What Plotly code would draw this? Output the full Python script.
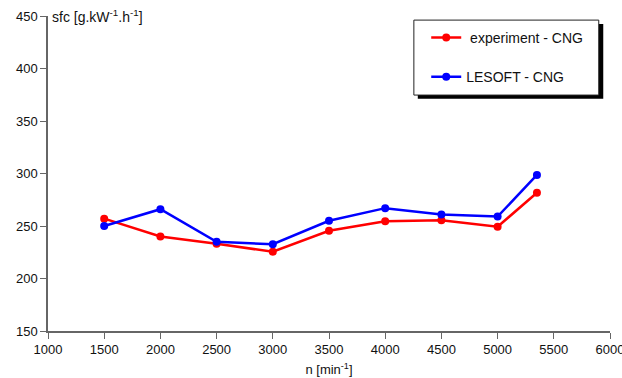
import plotly.graph_objects as go

rpm = [1500, 2000, 2500, 3000, 3500, 4000, 4500, 5000, 5350]
sfc_experiment = [257, 240, 233, 225.5, 245.5, 254.5, 255.4, 249.3, 281.7]
sfc_lesoft = [250, 266, 235, 232.6, 255, 267, 261, 259, 298.6]

x_ticks = [1000, 1500, 2000, 2500, 3000, 3500, 4000, 4500, 5000, 5500, 6000]
y_ticks = [150, 200, 250, 300, 350, 400, 450]

FONT = "Liberation Sans, Arial, sans-serif"

fig = go.Figure()
fig.add_trace(go.Scatter(
    x=rpm, y=sfc_experiment, mode="lines+markers", name=" experiment - CNG",
    line=dict(color="#FF0000", width=2.5), marker=dict(color="#FF0000", size=8),
    legendgroup="a"))
fig.add_trace(go.Scatter(
    x=rpm, y=sfc_lesoft, mode="lines+markers", name="LESOFT - CNG",
    line=dict(color="#0000FF", width=2.5), marker=dict(color="#0000FF", size=8),
    legendgroup="b"))

axis_common = dict(
    showline=True, linecolor="#666666", linewidth=1.5,
    ticks="outside", ticklen=6, tickcolor="#666666", tickwidth=1,
    showgrid=False, zeroline=False, ticklabeloverflow="allow", automargin=False,
    tickfont=dict(family=FONT, size=13, color="#111111"),
)

fig.update_layout(
    width=622, height=378,
    margin=dict(l=48, r=12, t=16, b=47),
    paper_bgcolor="white", plot_bgcolor="white",
    font=dict(family=FONT, size=13, color="#111111"),
    xaxis=dict(range=[1000, 6000], tickvals=x_ticks, **axis_common,
               title=dict(text="n [min<sup>-1</sup>]", font=dict(family=FONT, size=13), standoff=9)),
    yaxis=dict(range=[150, 450], tickvals=y_ticks, **axis_common),
    showlegend=True,
    legend=dict(x=0.673, y=0.981, xanchor="left", yanchor="top",
                bgcolor="rgba(0,0,0,0)", borderwidth=0,
                tracegroupgap=18, itemwidth=30,
                font=dict(family=FONT, size=14, color="#111111")),
    shapes=[
        dict(type="rect", xref="paper", yref="paper", x0=0.658, x1=0.988, y0=0.737, y1=0.975,
             fillcolor="black", line=dict(width=0), layer="above"),
        dict(type="rect", xref="paper", yref="paper", x0=0.651, x1=0.980, y0=0.749, y1=0.987,
             fillcolor="white", line=dict(color="#222222", width=1), layer="above"),
    ],
    annotations=[
        dict(text="sfc [g.kW<sup>-1</sup>.h<sup>-1</sup>]", xref="paper", yref="paper",
             x=0, y=1, xanchor="left", yanchor="middle", xshift=2, showarrow=False,
             font=dict(family=FONT, size=14, color="#111111")),
    ],
)

fig.write_html("out.html")
